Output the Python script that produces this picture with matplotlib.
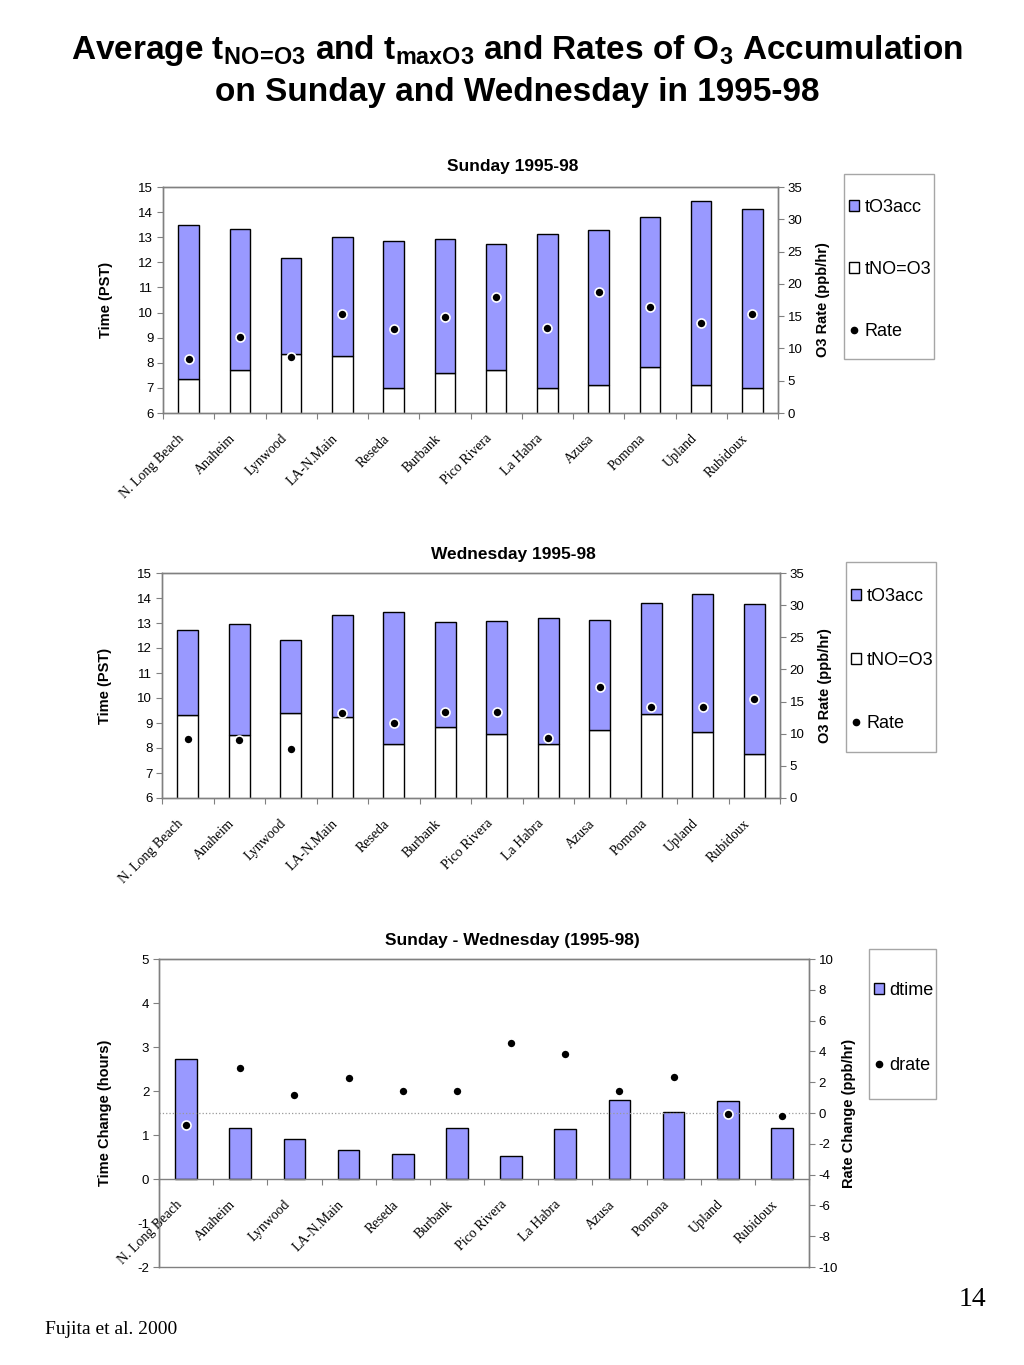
import matplotlib
matplotlib.use('Agg')
import matplotlib.pyplot as plt
from matplotlib.patches import Rectangle, Patch
from matplotlib.lines import Line2D
import numpy as np

plt.rcParams['font.family'] = ['Liberation Sans', 'DejaVu Sans']
plt.rcParams['mathtext.fontset'] = 'custom'
plt.rcParams['mathtext.rm'] = 'Liberation Sans'
plt.rcParams['mathtext.bf'] = 'Liberation Sans:bold'
plt.rcParams['axes.unicode_minus'] = False

sites = ['N. Long Beach', 'Anaheim', 'Lynwood', 'LA-N.Main', 'Reseda', 'Burbank',
         'Pico Rivera', 'La Habra', 'Azusa', 'Pomona', 'Upland', 'Rubidoux']

# Sunday 1995-98 (hours PST, rate ppb/hr)
sun_tno = [7.34, 7.71, 8.35, 8.27, 7.01, 7.59, 7.70, 7.01, 7.11, 7.83, 7.11, 7.01]
sun_tmax = [13.47, 13.33, 12.17, 13.01, 12.85, 12.94, 12.73, 13.13, 13.30, 13.82, 14.43, 14.14]
sun_rate = [8.3, 11.8, 8.7, 15.4, 13.0, 14.8, 17.9, 13.1, 18.8, 16.4, 14.0, 15.3]

# Wednesday 1995-98
wed_tno = [9.32, 8.52, 9.40, 9.24, 8.17, 8.84, 8.55, 8.17, 8.72, 9.35, 8.63, 7.76]
wed_tmax = [12.71, 12.97, 12.32, 13.32, 13.44, 13.04, 13.07, 13.20, 13.11, 13.81, 14.17, 13.75]
wed_rate = [9.2, 9.0, 7.6, 13.2, 11.6, 13.4, 13.4, 9.3, 17.3, 14.1, 14.1, 15.4]

# Sunday - Wednesday
dtime = [2.73, 1.17, 0.92, 0.66, 0.56, 1.17, 0.53, 1.14, 1.80, 1.53, 1.77, 1.15]
drate = [-0.8, 2.9, 1.2, 2.3, 1.4, 1.4, 4.55, 3.8, 1.45, 2.35, -0.07, -0.17]

blue = '#9999ff'
grey = '#808080'
W, H = 1024, 1365
fs_tick = 9.5
fs_cat = 10
fs_lab = 10.5
fs_leg = 13
ms_dot = 6.5

fig = plt.figure(figsize=(W / 100, H / 100), dpi=100)


def fx(px):
    return px / W


def fy(py):
    return 1 - py / H


def style_axes(ax, ax2, ybase):
    for a in (ax, ax2):
        for s in a.spines.values():
            s.set_color(grey)
            s.set_linewidth(1.0)
    ax.tick_params(axis='y', direction='out', length=4, color=grey, labelsize=fs_tick, pad=3)
    ax2.tick_params(axis='y', direction='out', length=4, color=grey, labelsize=fs_tick, pad=3)
    ax.set_xlim(-0.5, len(sites) - 0.5)
    ax.set_xticks(np.arange(-0.5, len(sites), 1.0))
    ax.set_xticklabels([])
    ax.tick_params(axis='x', which='major', direction='out', length=4, color=grey)
    # category names, rotated like the spreadsheet labels
    for i, name in enumerate(sites):
        ax.annotate(name, xy=(i, ybase), xycoords='data', xytext=(-11, -19),
                    textcoords='offset pixels', rotation=45, ha='right', va='top',
                    rotation_mode='anchor', fontfamily='Liberation Serif', fontsize=fs_cat,
                    annotation_clip=False)


def legend_box(box):
    bx0, by0, bx1, by1 = box
    fig.add_artist(Rectangle((fx(bx0), fy(by1)), fx(bx1) - fx(bx0), fy(by0) - fy(by1),
                             transform=fig.transFigure, fill=False, edgecolor='#a6a6a6', lw=1.0))


def stacked(rect, tno, tmax, rate, title, title_y, box, first_y, spacing):
    ax = fig.add_axes(rect)
    x = np.arange(len(sites))
    acc = np.array(tmax) - np.array(tno)
    ax.bar(x, tno, width=0.40, color='white', edgecolor='black', lw=1.0, zorder=2)
    ax.bar(x, acc, bottom=tno, width=0.40, color=blue, edgecolor='black', lw=1.0, zorder=2)
    ax.set_ylim(6, 15)
    ax.set_yticks(range(6, 16))
    ax.set_ylabel('Time (PST)', fontsize=fs_lab, fontweight='bold', labelpad=18)
    ax2 = ax.twinx()
    ax2.plot(x, rate, 'o', color='black', mec='white', mew=1.2, ms=ms_dot)
    ax2.set_ylim(0, 35)
    ax2.set_yticks(range(0, 36, 5))
    ax2.set_ylabel('O3 Rate (ppb/hr)', fontsize=fs_lab, fontweight='bold', labelpad=10)
    style_axes(ax, ax2, 6)
    fig.text(fx(513), fy(title_y), title, ha='center', va='center', fontsize=12.5, fontweight='bold')

    legend_box(box)
    hdot = Line2D([], [], ls='none', marker='o', color='black', ms=4.5)
    hacc = Patch(facecolor=blue, edgecolor='black', lw=1.0)
    hno = Patch(facecolor='white', edgecolor='black', lw=1.0)
    fig.legend([hacc, hno, hdot], ['tO3acc', 'tNO=O3', 'Rate'], loc='upper left',
               bbox_to_anchor=(fx(box[0] + 5), fy(first_y - 8)), frameon=False, fontsize=fs_leg,
               labelspacing=spacing, handlelength=0.55, handleheight=0.55, handletextpad=0.3,
               borderpad=0, borderaxespad=0)
    return ax, ax2


# main title
fig.text(fx(517), fy(50),
         r'Average t$_{\mathbf{NO}\!\mathbf{=}\!\mathbf{O3}}$ and t$_{\mathbf{maxO3}}$ and Rates of O$_{\mathbf{3}}$ Accumulation',
         ha='center', va='center', fontsize=24, fontweight='bold')
fig.text(fx(517), fy(93), 'on Sunday and Wednesday in 1995-98',
         ha='center', va='center', fontsize=24, fontweight='bold')

stacked([fx(163), fy(413), fx(778) - fx(163), (413 - 187) / H],
        sun_tno, sun_tmax, sun_rate, 'Sunday 1995-98', 167, (844, 174, 934, 359), 207, 2.5)
stacked([fx(162), fy(798), fx(780) - fx(162), (798 - 573) / H],
        wed_tno, wed_tmax, wed_rate, 'Wednesday 1995-98', 554, (846, 562, 936, 752), 596, 2.58)

# difference panel
ax = fig.add_axes([fx(159), fy(1267), fx(809) - fx(159), (1267 - 959) / H])
x = np.arange(len(sites))
ax.bar(x, dtime, width=0.40, color=blue, edgecolor='black', lw=1.0, zorder=2)
ax.set_ylim(-2, 5)
ax.set_yticks(range(-2, 6))
ax.set_ylabel('Time Change (hours)', fontsize=fs_lab, fontweight='bold', labelpad=18)
ax.spines['bottom'].set_position(('data', 0))
ax2 = ax.twinx()
ax2.axhline(0, color='#999999', ls=':', lw=0.9, zorder=0)
ax2.plot(x, drate, 'o', color='black', mec='white', mew=1.2, ms=ms_dot)
ax2.set_ylim(-10, 10)
ax2.set_yticks(range(-10, 11, 2))
ax2.set_ylabel('Rate Change (ppb/hr)', fontsize=fs_lab, fontweight='bold', labelpad=3)
style_axes(ax, ax2, 0)
fig.text(fx(512), fy(940), 'Sunday - Wednesday (1995-98)', ha='center', va='center',
         fontsize=12.5, fontweight='bold')
legend_box((869, 949, 936, 1099))
fig.legend([Patch(facecolor=blue, edgecolor='black', lw=1.0),
            Line2D([], [], ls='none', marker='o', color='black', ms=4.5)],
           ['dtime', 'drate'], loc='upper left', bbox_to_anchor=(fx(874), fy(990 - 8)),
           frameon=False, fontsize=fs_leg, labelspacing=3.2, handlelength=0.55, handleheight=0.55,
           handletextpad=0.3, borderpad=0, borderaxespad=0)

fig.text(fx(972), fy(1300), '14', ha='center', va='center', fontsize=20, fontfamily='Liberation Serif')
fig.text(fx(45), fy(1330), 'Fujita et al. 2000', ha='left', va='center', fontsize=14,
         fontfamily='Liberation Serif')

fig.savefig('out.png', dpi=100)
